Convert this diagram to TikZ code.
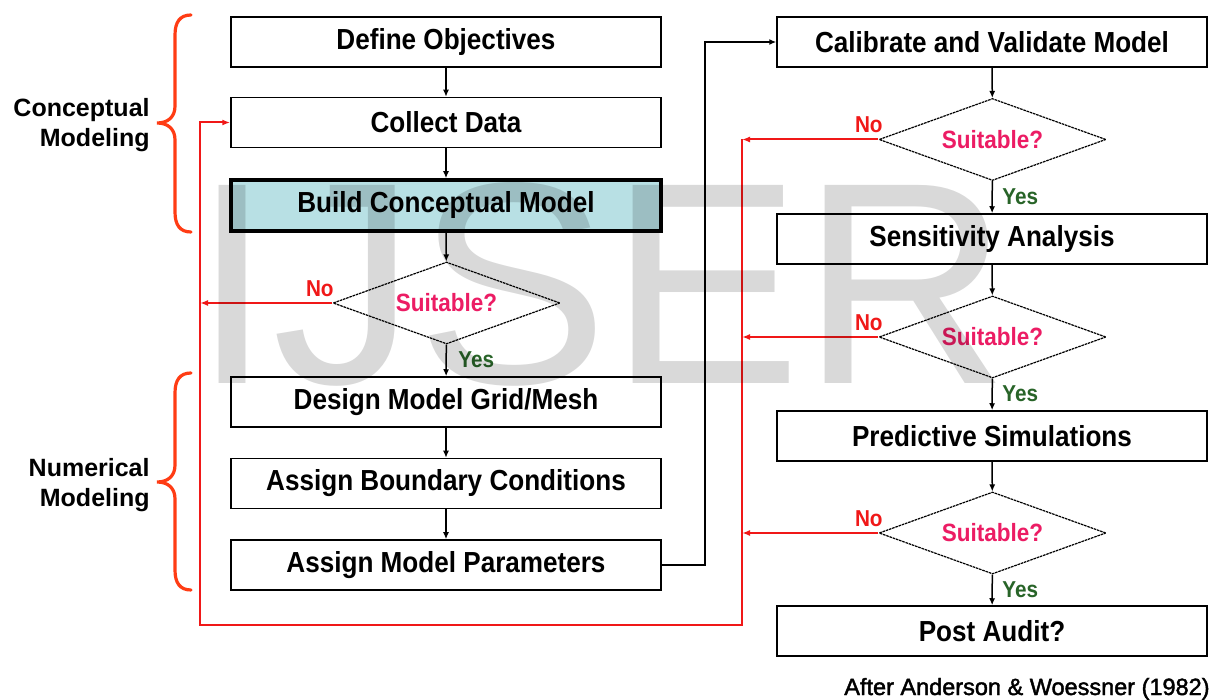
\documentclass[tikz,border=0pt]{standalone}
\usepackage{fontspec}
\setmainfont{Liberation Sans}
\newfontfamily\condfont{Liberation Sans}[FakeStretch=0.9]
\newfontfamily\notefont{Liberation Sans}[FakeBold=1.8]
\usetikzlibrary{arrows.meta,shapes.geometric}

\definecolor{bracered}{RGB}{255,60,20}
\definecolor{loopred}{RGB}{240,24,24}
\definecolor{askpink}{RGB}{236,28,100}
\definecolor{yesgreen}{RGB}{40,100,40}
\definecolor{keyfill}{RGB}{184,224,228}

\tikzset{
  stage/.style={draw, line width=0.75pt, minimum width=215pt, minimum height=25pt,
    inner sep=0pt, font=\condfont\bfseries\fontsize{14.5}{16}\selectfont},
  keystage/.style={stage, fill=keyfill, line width=1.75pt, minimum height=25.5pt},
  check/.style={diamond, draw, line width=0.6pt, dash pattern=on 1.3pt off 0.4pt,
    shape aspect=2.8, minimum width=113.5pt, minimum height=41pt, inner sep=0pt,
    text=askpink, font=\condfont\bfseries\fontsize{12.5}{14}\selectfont},
  nolabel/.style={text=loopred, inner sep=0pt, font=\condfont\bfseries\fontsize{11.5}{12}\selectfont},
  yeslabel/.style={text=yesgreen, inner sep=0pt, font=\condfont\bfseries\fontsize{11.5}{12}\selectfont},
  phase/.style={align=right, inner sep=0pt, font=\bfseries\fontsize{12.5}{15}\selectfont},
  flow/.style={line width=0.75pt, -{Latex[length=3.5pt,width=3pt]}},
  back/.style={loopred, line width=1pt, -{Latex[length=4pt,width=3pt]}},
  brace/.style={bracered, line width=1.6pt, line cap=round}
}

\begin{document}
\begin{tikzpicture}[x=0.5pt,y=-0.5pt]
\fill[white] (0,0) rectangle (1217,700);
\useasboundingbox (0,0) rectangle (1217,700);

% left column: conceptual and numerical steps
\node[stage] (obj) at (446,42) {Define Objectives};
\node[stage] (data) at (446,122.5) {Collect Data};
\node[keystage] (build) at (446,205.5) {Build Conceptual Model};
\node[check] (q1) at (446.5,303) {Suitable?};
\node[stage] (grid) at (446,402) {Design Model Grid/Mesh};
\node[stage] (bc) at (446,483.5) {Assign Boundary Conditions};
\node[stage] (par) at (446,565) {Assign Model Parameters};

% right column: calibration and prediction
\node[stage] (cal) at (992,42) {Calibrate and Validate Model};
\node[check] (q2) at (992.5,139.5) {Suitable?};
\node[stage] (sens) at (992,239) {Sensitivity Analysis};
\node[check] (q3) at (992.5,337) {Suitable?};
\node[stage] (pred) at (992,436) {Predictive Simulations};
\node[check] (q4) at (992.5,533) {Suitable?};
\node[stage] (audit) at (992,631) {Post Audit?};

% forward flow
\draw[flow] (obj) -- (data);
\draw[flow] (data) -- (build);
\draw[flow] (build) -- (q1);
\draw[flow] (q1) -- (grid);
\draw[flow] (grid) -- (bc);
\draw[flow] (bc) -- (par);
\draw[flow] (cal) -- (q2);
\draw[flow] (q2) -- (sens);
\draw[flow] (sens) -- (q3);
\draw[flow] (q3) -- (pred);
\draw[flow] (pred) -- (q4);
\draw[flow] (q4) -- (audit);

\coordinate (jog) at (705,0);
\draw[flow] (par.east) -- (par.east -| jog) -- (jog |- cal.west) -- (cal.west);

% yes / no labels
\node[nolabel, anchor=base east] (n1) at (334,297) {No};
\node[nolabel, anchor=base east] (n2) at (883,133) {No};
\node[nolabel, anchor=base east] (n3) at (883,330.5) {No};
\node[nolabel, anchor=base east] (n4) at (883,526.5) {No};
\node[yeslabel, anchor=west] (y1) at (458,360) {Yes};
\node[yeslabel, anchor=west] (y2) at (1002,197) {Yes};
\node[yeslabel, anchor=west] (y3) at (1002,394) {Yes};
\node[yeslabel, anchor=west] (y4) at (1002,590) {Yes};

% feedback loops
\coordinate (lbus) at (200,625);
\coordinate (rbus) at (742,625);
\draw[back] (q1.west) -- (q1.west -| lbus);
\draw[back] (q2.west) -- (q2.west -| rbus);
\draw[back] (q3.west) -- (q3.west -| rbus);
\draw[back] (q4.west) -- (q4.west -| rbus);
\draw[back] (q2.west -| rbus) -- (rbus) -- (lbus) -- (lbus |- data.west) -- (data.west);

% phase braces
\draw[brace] (191,15) .. controls (180,15) and (175,22) .. (175,35)
  -- (175,106) .. controls (175,117) and (168,123) .. (157,123)
  .. controls (168,123) and (175,129) .. (175,140)
  -- (175,212) .. controls (175,225) and (180,232) .. (191,232);
\draw[brace] (191,373) .. controls (180,373) and (175,380) .. (175,393)
  -- (175,465) .. controls (175,476) and (168,482) .. (157,482)
  .. controls (168,482) and (175,488) .. (175,499)
  -- (175,570) .. controls (175,583) and (180,590) .. (191,590);
\node[phase, anchor=east] (cm) at (150,125) {Conceptual\\Modeling};
\node[phase, anchor=east] (nm) at (150,485) {Numerical\\Modeling};

% source note
\node[anchor=base east, inner sep=0pt, font=\notefont\fontsize{11.75}{13}\selectfont] (src) at (1210,695) {After Anderson \& Woessner (1982)};

% watermark
\node[inner sep=0pt, text=black, text opacity=0.15, font=\fontsize{144}{144}\selectfont] (wm) at (601,284) {IJSER};
\end{tikzpicture}
\end{document}
